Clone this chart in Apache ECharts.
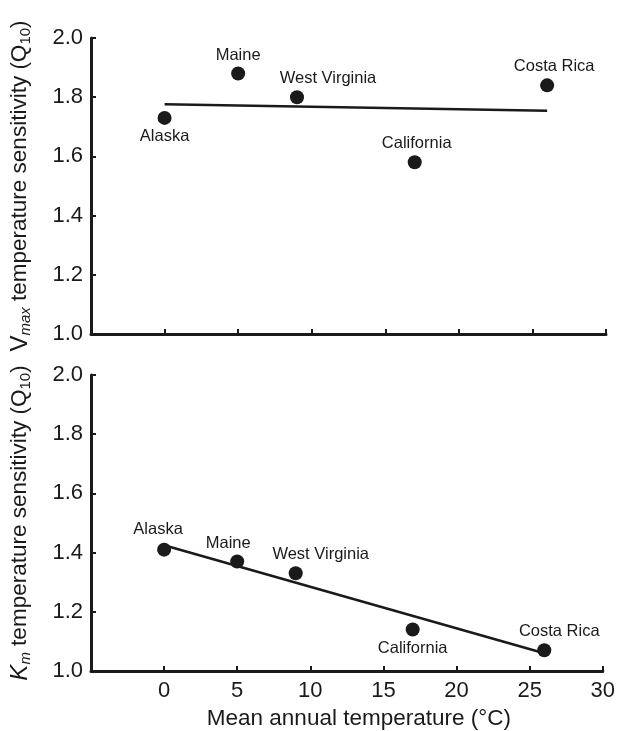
<!DOCTYPE html>
<html>
<head>
<meta charset="utf-8">
<script src="https://cdn.jsdelivr.net/npm/echarts@6/dist/echarts.min.js"></script>
<style>html,body{margin:0;padding:0;background:#fff;}#c{width:618px;height:731px;}</style>
</head>
<body>
<div id="c"></div>
<script>
// ---- data ----
var sites = ['Alaska', 'Maine', 'West Virginia', 'California', 'Costa Rica'];
var meanTemp = [0, 5, 9, 17, 26];
var vmaxQ10 = [1.73, 1.88, 1.80, 1.58, 1.84];
var kmQ10 = [1.41, 1.37, 1.33, 1.14, 1.07];
var vmaxTrend = [[0, 1.776], [26, 1.754]];
var kmTrend = [[0, 1.425], [26, 1.06]];
var xTicks = [0, 5, 10, 15, 20, 25, 30];
var yTicks = [1.0, 1.2, 1.4, 1.6, 1.8, 2.0];

// label placement (style)
var topLabelPos = {
  'Alaska': {position: 'bottom', offset: [0, 0]},
  'Maine': {position: 'top', offset: [0, 0]},
  'West Virginia': {position: 'top', offset: [31, 0]},
  'California': {position: 'top', offset: [2, 0]},
  'Costa Rica': {position: 'top', offset: [7, 0]}
};
var botLabelPos = {
  'Alaska': {position: 'top', offset: [-6, -2]},
  'Maine': {position: 'top', offset: [-9, 0]},
  'West Virginia': {position: 'top', offset: [25, 0]},
  'California': {position: 'bottom', offset: [0, 0]},
  'Costa Rica': {position: 'top', offset: [15, 0]}
};

var FONT = 'Liberation Sans, Arial, sans-serif';
var INK = '#1a1a1a';

function pts(vals, pos) {
  return sites.map(function (s, i) {
    return {
      name: s,
      value: [meanTemp[i], vals[i]],
      label: {show: true, formatter: s, position: pos[s].position, offset: pos[s].offset,
        distance: 3, fontSize: 16.5, color: INK, fontFamily: FONT, opacity: 1}
    };
  });
}

function xAxis(idx, showLabels) {
  return {
    type: 'value', gridIndex: idx, min: -5, max: 30, interval: 5,
    axisLine: {show: true, onZero: false, lineStyle: {color: INK, width: 3}},
    axisTick: {show: true, inside: true, length: 5, lineStyle: {color: INK, width: 2}},
    splitLine: {show: false},
    axisLabel: {
      show: showLabels, fontSize: 22, color: INK, fontFamily: FONT, margin: 9,
      formatter: function (v) { return xTicks.indexOf(v) >= 0 ? String(v) : ''; }
    },
    name: showLabels ? 'Mean annual temperature (°C)' : '',
    nameLocation: 'middle', nameGap: 36,
    nameTextStyle: {fontSize: 22.5, color: INK, fontFamily: FONT, padding: [0, 0, 0, 24]}
  };
}

function yAxis(idx, nameRich) {
  return {
    type: 'value', gridIndex: idx, min: 1, max: 2, interval: 0.2,
    axisLine: {show: true, onZero: false, lineStyle: {color: INK, width: 3}},
    axisTick: {show: true, inside: true, length: 5, lineStyle: {color: INK, width: 2}},
    splitLine: {show: false},
    axisLabel: {
      fontSize: 22, color: INK, fontFamily: FONT, margin: 8,
      formatter: function (v) {
        var t = yTicks.filter(function (k) { return Math.abs(k - v) < 1e-6; });
        return t.length ? t[0].toFixed(1) : '';
      }
    },
    name: nameRich, nameLocation: 'middle', nameGap: 58,
    nameTextStyle: {
      color: INK, fontFamily: FONT, fontSize: 22.5,
      rich: {
        b: {fontSize: 24, color: INK, fontFamily: FONT, lineHeight: 26},
        bi: {fontSize: 24, color: INK, fontFamily: FONT, fontStyle: 'italic', lineHeight: 26},
        t: {fontSize: 22.5, color: INK, fontFamily: FONT, lineHeight: 26},
        si: {fontSize: 15, color: INK, fontFamily: FONT, fontStyle: 'italic', lineHeight: 15, verticalAlign: 'bottom'},
        s: {fontSize: 15, color: INK, fontFamily: FONT, lineHeight: 15, verticalAlign: 'bottom'}
      }
    }
  };
}

var chart = echarts.init(document.getElementById('c'), null, {renderer: 'canvas'});
chart.setOption({
  backgroundColor: '#fff',
  animation: false,
  grid: [
    {left: 90, top: 38, width: 516, height: 296},
    {left: 90, top: 375, width: 516, height: 297}
  ],
  xAxis: [xAxis(0, false), xAxis(1, true)],
  yAxis: [
    yAxis(0, '{b|V}{si|max}{t| temperature sensitivity (Q}{s|10}{t|)}'),
    yAxis(1, '{bi|K}{si|m}{t| temperature sensitivity (Q}{s|10}{t|)}')
  ],
  series: [
    {type: 'line', xAxisIndex: 0, yAxisIndex: 0, data: vmaxTrend, symbol: 'none',
      lineStyle: {color: INK, width: 2.5}, z: 2},
    {type: 'scatter', xAxisIndex: 0, yAxisIndex: 0, data: pts(vmaxQ10, topLabelPos),
      symbol: 'circle', symbolSize: 14, itemStyle: {color: INK, opacity: 1}, z: 3},
    {type: 'line', xAxisIndex: 1, yAxisIndex: 1, data: kmTrend, symbol: 'none',
      lineStyle: {color: INK, width: 2.5}, z: 2},
    {type: 'scatter', xAxisIndex: 1, yAxisIndex: 1, data: pts(kmQ10, botLabelPos),
      symbol: 'circle', symbolSize: 14, itemStyle: {color: INK, opacity: 1}, z: 3}
  ]
});
</script>
</body>
</html>
